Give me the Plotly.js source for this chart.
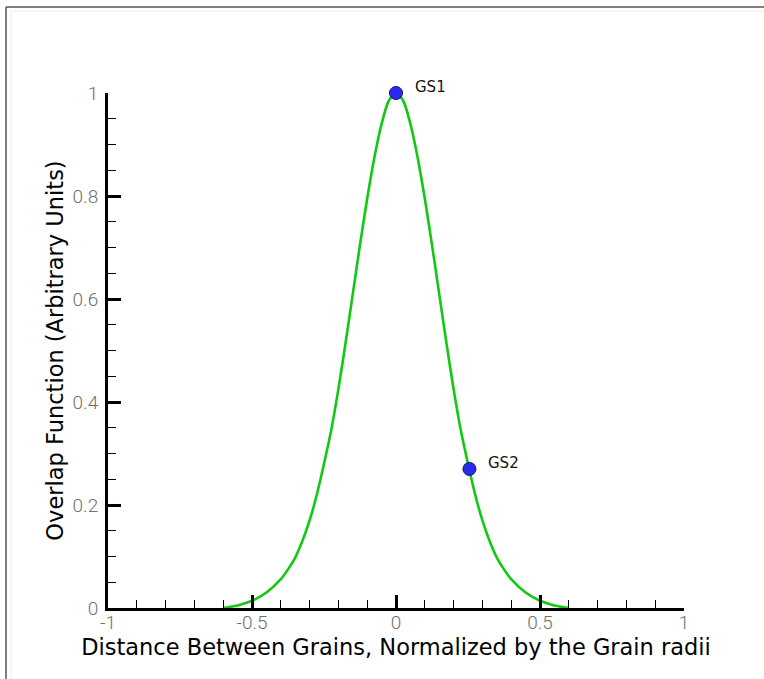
<!DOCTYPE html>
<html>
<head>
<meta charset="utf-8">
<script src="https://cdn.plot.ly/plotly-3.0.1.min.js"></script>
<style>
  html, body { margin: 0; padding: 0; background: #ffffff; }
  #chart { width: 764px; height: 679px; }
</style>
</head>
<body>
<div id="chart"></div>
<script>
// Overlap function vs. normalized grain separation
const distance = [-0.6, -0.55, -0.5, -0.45, -0.4, -0.375, -0.35, -0.325, -0.3, -0.275, -0.25, -0.225,
                  -0.2, -0.175, -0.15, -0.125, -0.1, -0.075, -0.05, -0.025, 0,
                  0.025, 0.05, 0.075, 0.1, 0.125, 0.15, 0.175, 0.2, 0.225, 0.25, 0.275,
                  0.3, 0.325, 0.35, 0.375, 0.4, 0.45, 0.5, 0.55, 0.6];
const overlap = [0, 0.005, 0.014, 0.03, 0.056, 0.075, 0.098, 0.13, 0.17, 0.22, 0.28, 0.345,
                 0.425, 0.515, 0.61, 0.705, 0.795, 0.875, 0.94, 0.985, 1,
                 0.985, 0.94, 0.875, 0.795, 0.705, 0.61, 0.515, 0.425, 0.345, 0.28, 0.22,
                 0.17, 0.13, 0.098, 0.075, 0.056, 0.03, 0.014, 0.005, 0];

// Grain-separation states marked on the curve
const stateNames = ['GS1', 'GS2'];
const stateX = [0, 0.255];
const stateY = [1, 0.27];

const xTicks = [-1, -0.5, 0, 0.5, 1];
const xTickText = ['-1', '-0.5', '0', '0.5', '1'];
const yTicks = [0, 0.2, 0.4, 0.6, 0.8, 1];
const yTickText = ['0', '0.2', '0.4', '0.6', '0.8', '1'];

const curve = {
  x: distance, y: overlap, type: 'scatter', mode: 'lines',
  line: { color: '#12c912', width: 2.6, shape: 'spline', smoothing: 0.8 },
  hoverinfo: 'x+y', showlegend: false
};

const states = {
  x: stateX, y: stateY, type: 'scatter', mode: 'markers',
  marker: { color: '#2b2bf0', size: 13, line: { color: '#111166', width: 1 } },
  cliponaxis: false, showlegend: false
};

const stateLabels = stateNames.map((name, i) => ({
  x: stateX[i], y: stateY[i], xref: 'x', yref: 'y',
  text: name, showarrow: false, xanchor: 'left', yanchor: 'middle',
  xshift: 17, yshift: 6,
  font: { family: 'DejaVu Sans, sans-serif', size: 15, color: '#111111' }
}));

const tickFont = { family: 'Roboto, sans-serif', size: 19, weight: 300, color: '#707070' };
const titleFont = { family: 'DejaVu Sans, sans-serif', size: 22.5, color: '#000000' };

const layout = {
  width: 764, height: 679,
  margin: { l: 108, r: 80, t: 93, b: 71 },
  paper_bgcolor: '#ffffff', plot_bgcolor: '#ffffff',
  showlegend: false,
  xaxis: {
    range: [-1, 1], showgrid: false, zeroline: false,
    showline: true, linecolor: '#000000', linewidth: 3, mirror: false,
    tickmode: 'array', tickvals: xTicks, ticktext: xTickText,
    ticks: 'inside', ticklen: 13, tickwidth: 3, tickcolor: '#000000',
    minor: { dtick: 0.1, ticks: 'inside', ticklen: 8, tickwidth: 1, tickcolor: '#000000', showgrid: false },
    tickfont: tickFont, ticklabelstandoff: -5,
    title: { text: 'Distance Between Grains, Normalized by the Grain radii', font: titleFont, standoff: 0 },
    automargin: false
  },
  yaxis: {
    range: [0, 1], showgrid: false, zeroline: false,
    showline: true, linecolor: '#000000', linewidth: 3, mirror: false,
    tickmode: 'array', tickvals: yTicks, ticktext: yTickText,
    ticks: 'inside', ticklen: 13, tickwidth: 3, tickcolor: '#000000',
    minor: { dtick: 0.05, ticks: 'inside', ticklen: 8, tickwidth: 1, tickcolor: '#000000', showgrid: false },
    tickfont: tickFont, ticklabelstandoff: 3,
    title: { text: 'Overlap Function (Arbitrary Units)', font: titleFont, standoff: 3 },
    automargin: false
  },
  annotations: stateLabels,
  shapes: [
    // outer frame edges (top and left)
    { type: 'line', xref: 'paper', yref: 'paper', x0: -102 / 576, x1: 680 / 576, y0: 1 + 86 / 515, y1: 1 + 86 / 515,
      line: { color: '#555555', width: 1.5 } },
    { type: 'line', xref: 'paper', yref: 'paper', x0: -102 / 576, x1: -102 / 576, y0: 1 + 86 / 515, y1: -80 / 515,
      line: { color: '#555555', width: 1.5 } },
    { type: 'line', xref: 'paper', yref: 'paper', x0: -97 / 576, x1: 680 / 576, y0: 1 + 82 / 515, y1: 1 + 82 / 515,
      line: { color: '#ececec', width: 1 } },
    { type: 'line', xref: 'paper', yref: 'paper', x0: -97 / 576, x1: -97 / 576, y0: 1 + 82 / 515, y1: -80 / 515,
      line: { color: '#ececec', width: 1 } }
  ]
};

Plotly.newPlot('chart', [curve, states], layout, { displayModeBar: false, staticPlot: true });
</script>
</body>
</html>
